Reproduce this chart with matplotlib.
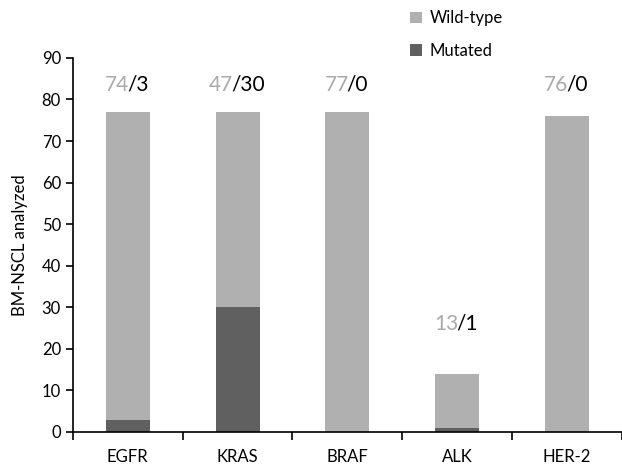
import matplotlib
matplotlib.use('Agg')
import matplotlib.pyplot as plt
import matplotlib.transforms as mtransforms
import numpy as np

plt.rcParams['font.family'] = ['Lato', 'DejaVu Sans']

genes = ['EGFR', 'KRAS', 'BRAF', 'ALK', 'HER-2']
mutated = [3, 30, 0, 1, 0]
wild_type = [74, 47, 77, 13, 76]
label_y = [83.5, 83.5, 83.5, 26, 83.5]

WT_COLOR = '#b0b0b0'
MUT_COLOR = '#606060'

fig = plt.figure(figsize=(6.22, 4.67), dpi=100)
ax = fig.add_axes([0.117, 0.075, 0.883, 0.801])

x = np.arange(len(genes))
ax.bar(x, mutated, width=0.4, color=MUT_COLOR, label='Mutated')
ax.bar(x, wild_type, width=0.4, bottom=mutated, color=WT_COLOR, label='Wild-type')

ax.set_xlim(-0.5, len(genes) - 0.5)
ax.set_ylim(0, 90)

# pull the black "/n" part a little closer to the grey number
tight = mtransforms.offset_copy(ax.transData, fig=fig, x=-2, y=0, units='dots')

pairs = []
for xi, wt, mu, ly in zip(x, wild_type, mutated, label_y):
    t1 = ax.text(xi, ly, f'{wt}', color='#aaaaaa', fontsize=15, ha='right', va='center')
    t2 = ax.text(xi, ly, f'/{mu}', color='black', fontsize=15, ha='left', va='center',
                 transform=tight)
    pairs.append((t1, t2))

# centre each "wt/mu" pair over its bar
fig.canvas.draw()
r = fig.canvas.get_renderer()
px_per_unit = ax.transData.transform((1, 0))[0] - ax.transData.transform((0, 0))[0]
for t1, t2 in pairs:
    w1 = t1.get_window_extent(r).width
    w2 = t2.get_window_extent(r).width
    dx = (w1 - w2) / 2 / px_per_unit
    for t in (t1, t2):
        px, py = t.get_position()
        t.set_position((px + dx, py))

ax.set_yticks(range(0, 91, 10))
ax.set_xticks(x)
ax.set_xticklabels(genes, fontsize=12)
ax.set_xticks(np.arange(-0.5, len(genes), 1.0), minor=True)
ax.tick_params(axis='x', which='major', length=0, pad=12)
ax.tick_params(axis='x', which='minor', length=6, width=1.2, direction='out')
ax.tick_params(axis='y', labelsize=12, length=5, width=1.2, direction='out')
ax.spines['top'].set_visible(False)
ax.spines['right'].set_visible(False)
ax.spines['left'].set_linewidth(1.2)
ax.spines['bottom'].set_linewidth(1.2)
ax.set_ylabel('BM-NSCL analyzed', fontsize=12, labelpad=10)

handles, labels = ax.get_legend_handles_labels()
fig.legend(handles[::-1], labels[::-1], loc='upper left', bbox_to_anchor=(0.635, 1.01),
           frameon=False, fontsize=12, handlelength=0.7, handleheight=0.7,
           handletextpad=0.5, labelspacing=1.0)

fig.savefig('out.png', dpi=100)
